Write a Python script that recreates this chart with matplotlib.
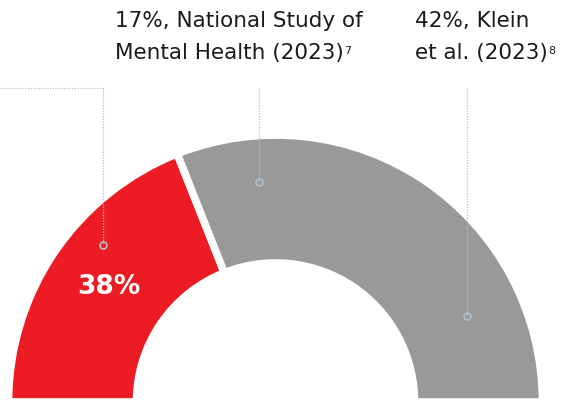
import numpy as np
import matplotlib.pyplot as plt

# valeurs du graphique (demi-anneau)
parts = [38, 62]
couleurs = ['#ED1C24', '#999999']
etiquette_rouge = '38%'

# textes des annotations
texte1 = ['17%, National Study of', 'Mental Health (2023)']
sup1 = '7'
texte2 = ['42%, Klein', 'et al. (2023)']
sup2 = '8'

# points d'ancrage des annotations (pixels, y vers le haut)
ancres = [(103, 155), (259, 218), (467, 84)]
y_ligne = 312

police = ['DejaVu Sans']

fig = plt.figure(figsize=(5.65, 4), dpi=100)
ax = fig.add_axes([0, 0, 1, 1])
ax.set_xlim(0, 565)
ax.set_ylim(0, 400)
ax.set_aspect('equal')
ax.axis('off')

fr = [p / 200 for p in parts]  # demi-cercle
wedges, _ = ax.pie(fr, colors=couleurs, startangle=180, counterclock=False,
                   normalize=False, radius=267, center=(275.5, -2),
                   wedgeprops=dict(width=128, edgecolor='white', linewidth=5.5))
ax.set_xlim(0, 565)
ax.set_ylim(0, 400)

# texte 38%
ax.text(109, 113, etiquette_rouge, color='white', fontsize=19, fontweight='bold',
        family=police, ha='center', va='center')

# lignes pointillées + cercles
lc = '#b0bfcd'
ax.plot([0, ancres[0][0]], [y_ligne, y_ligne], ls=(0, (1, 1.2)), color=lc, lw=0.9)
for (x, y) in ancres:
    ax.plot([x, x], [y_ligne, y], ls=(0, (1, 1.2)), color=lc, lw=0.9)
    ax.plot(x, y, 'o', ms=5, mfc='none', mec=lc, mew=1.2)

# annotations texte
def bloc(x, lignes, sup):
    t = None
    for i, l in enumerate(lignes):
        t = ax.text(x, 400 - 27 - 32 * i, l, fontsize=15.5, family=police,
                    color='#1a1a1a', ha='left', va='baseline')
    fig.canvas.draw()
    bb = t.get_window_extent()
    ax.text(bb.x1 + 0.5, 400 - 54, sup, fontsize=8, family=police,
            color='#1a1a1a', ha='left', va='baseline')

bloc(115, texte1, sup1)
bloc(415, texte2, sup2)

fig.savefig('out.png', dpi=100)
